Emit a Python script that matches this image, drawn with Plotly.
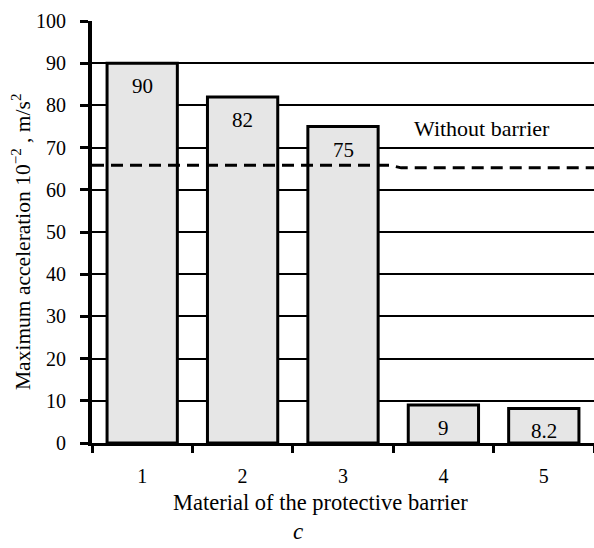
import plotly.graph_objects as go

# Material numbers and measured peak acceleration (x 10^-2 m/s^2)
materials = [1, 2, 3, 4, 5]
accel = [90, 82, 75, 9, 8.2]
accel_labels = ["90", "82", "75", "9", "8.2"]

# Reference level measured without any barrier
ref_x = [0.5, 3.47, 3.58, 5.5]
ref_y = [65.8, 65.8, 65.2, 65.2]

y_ticks = [0, 10, 20, 30, 40, 50, 60, 70, 80, 90, 100]
x_bounds = [0.5, 1.5, 2.5, 3.5, 4.5, 5.5]

FONT = "Liberation Serif"
PLOT_W = 502
PLOT_H = 422

fig = go.Figure()

fig.add_trace(go.Bar(
    x=materials, y=accel, width=0.7,
    marker=dict(color="#e6e6e6", line=dict(color="black", width=3)),
    hoverinfo="skip", showlegend=False,
))

fig.add_trace(go.Scatter(
    x=ref_x, y=ref_y, mode="lines",
    line=dict(color="black", width=3, dash="12px,7px"),
    hoverinfo="skip", showlegend=False, cliponaxis=False,
))

# Value labels inside the top of each bar
for m, v, t in zip(materials, accel, accel_labels):
    fig.add_annotation(
        x=m, y=v, text=t, showarrow=False, yanchor="top", yshift=-9,
        font=dict(family=FONT, size=21, color="black"),
    )

fig.add_annotation(
    x=3.69, y=74.5, text="Without barrier", showarrow=False,
    xanchor="left", yanchor="middle",
    font=dict(family=FONT, size=22, color="black"),
)

# Axis titles
fig.add_annotation(
    x=(320 - 92) / PLOT_W, y=(443 - 502) / PLOT_H, xref="paper", yref="paper",
    text="Material of the protective barrier", showarrow=False,
    xanchor="center", yanchor="middle",
    font=dict(family=FONT, size=22.5, color="black"),
)

fig.add_annotation(
    x=(21 - 92) / PLOT_W, y=(443 - 242) / PLOT_H, xref="paper", yref="paper",
    text="Maximum acceleration 10<sup>\u22122</sup> , m/s<sup>2</sup>",
    textangle=-90, showarrow=False, xanchor="center", yanchor="middle",
    font=dict(family=FONT, size=21.5, color="black"),
)

fig.add_annotation(
    x=(298 - 92) / PLOT_W, y=(443 - 531) / PLOT_H, xref="paper", yref="paper",
    text="<i>c</i>", showarrow=False, xanchor="center", yanchor="middle",
    font=dict(family=FONT, size=23, color="black"),
)

fig.update_layout(
    width=594, height=548,
    margin=dict(l=92, r=0, t=21, b=105),
    paper_bgcolor="white", plot_bgcolor="white",
    font=dict(family=FONT, size=20, color="black"),
    xaxis=dict(
        range=[0.5, 5.5], tickvals=materials, ticktext=[str(m) for m in materials],
        ticks="", showgrid=False, zeroline=False,
        showline=True, linecolor="black", linewidth=3,
        tickfont=dict(family=FONT, size=20),
        ticklabelstandoff=13,
        minor=dict(tickvals=x_bounds, ticks="outside", ticklen=7,
                   tickwidth=3, tickcolor="black", showgrid=False),
    ),
    yaxis=dict(
        range=[0, 100], tickvals=y_ticks,
        ticks="outside", ticklen=8, tickwidth=3, tickcolor="black",
        showgrid=True, gridcolor="black", gridwidth=2,
        zeroline=False, showline=True, linecolor="black", linewidth=4,
        tickfont=dict(family=FONT, size=20),
        ticklabelstandoff=10,
    ),
)

fig.write_html("out.html")
